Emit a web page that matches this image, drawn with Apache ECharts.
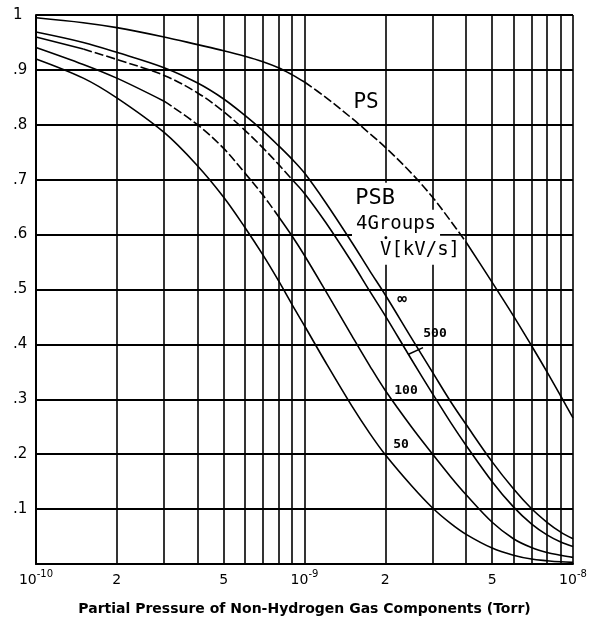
<!DOCTYPE html>
<html><head><meta charset="utf-8">
<script src="https://cdn.jsdelivr.net/npm/echarts@6/dist/echarts.min.js"></script>
<style>html,body{margin:0;padding:0;background:#fff}#c{width:601px;height:621px}</style>
</head><body><div id="c"></div>
<script>
// Pressure samples (Torr)
const pressure = [1e-10,1.5e-10,2e-10,3e-10,4e-10,5e-10,6e-10,7e-10,8e-10,9e-10,
  1e-9,1.2e-9,1.5e-9,1.75e-9,2e-9,2.5e-9,3e-9,3.5e-9,4e-9,5e-9,6e-9,7e-9,8e-9,9e-9,1e-8];
// PS curve
const psValues = [0.995,0.986,0.977,0.960,0.946,0.935,0.925,0.915,0.904,0.891,
  0.878,0.850,0.812,0.784,0.759,0.712,0.668,0.625,0.586,0.513,0.452,0.398,0.350,0.306,0.266];
// PSB 4 groups, V-dot [kV/s]
const psbInf = [0.969,0.950,0.932,0.904,0.876,0.847,0.817,0.789,0.762,0.737,
  0.712,0.658,0.586,0.534,0.490,0.412,0.349,0.296,0.254,0.186,0.137,0.101,0.076,0.058,0.046];
const psb500 = [0.960,0.938,0.919,0.890,0.858,0.824,0.790,0.758,0.728,0.700,
  0.675,0.622,0.550,0.497,0.452,0.373,0.310,0.258,0.216,0.150,0.104,0.073,0.053,0.040,0.032];
const psb100 = [0.941,0.910,0.885,0.843,0.800,0.757,0.712,0.672,0.633,0.597,
  0.562,0.497,0.416,0.361,0.316,0.250,0.200,0.159,0.126,0.076,0.046,0.030,0.021,0.016,0.012];
const psb50 = [0.920,0.885,0.849,0.786,0.725,0.668,0.613,0.563,0.516,0.472,
  0.434,0.367,0.288,0.238,0.199,0.143,0.102,0.074,0.054,0.029,0.016,0.009,0.006,0.004,0.003];
// Grid / tick values
const gridPressures = [];
[-10,-9].forEach(e => { for (let m = 1; m <= 9; m++) gridPressures.push(m * Math.pow(10, e)); });
gridPressures.push(1e-8);
const labelPressures = [1e-10,2e-10,5e-10,1e-9,2e-9,5e-9,1e-8];
const xTitle = 'Partial Pressure of Non-Hydrogen Gas Components (Torr)';

const FONT = 'DejaVu Sans';
const MONO = 'DejaVu Sans Mono';
function part(vals, a, b) {
  const out = [];
  for (let i = a; i <= b; i++) out.push([pressure[i], vals[i]]);
  return out;
}
function curve(data, dashed) {
  return { type: 'line', data: data, smooth: 0.35, symbol: 'none', silent: true, z: 3,
    lineStyle: { color: '#000', width: 1.6, type: dashed ? [9, 3] : 'solid' } };
}
const annotations = [
  { text: 'PS', coord: [1.695e-9, 0.841], size: 21, bg: false },
  { text: 'PSB', coord: [1.831e-9, 0.6655], size: 22, bg: true, pad: [5, 4] },
  { text: '4Groups', coord: [2.192e-9, 0.619], size: 19, bg: true, pad: [5, 4] },
  { text: 'V[kV/s]', coord: [2.693e-9, 0.5714], size: 19, bg: true, pad: [5, 4] },
  { text: '\u2022', coord: [2.012e-9, 0.5913], size: 8, bg: false, bold: true },
  { text: '\u221E', coord: [2.308e-9, 0.481], size: 16, bg: false, bold: true },
  { text: '500', coord: [3.062e-9, 0.4195], size: 13, bg: false, bold: true },
  { text: '100', coord: [2.388e-9, 0.3165], size: 13, bg: false, bold: true },
  { text: '50', coord: [2.288e-9, 0.217], size: 13, bg: false, bold: true }
];

const series = [
  curve(part(psValues, 0, 10), false),
  curve(part(psValues, 10, 18), true),
  curve(part(psValues, 18, 24), false),
  curve(part(psbInf, 0, 24), false),
  curve(part(psb500, 0, 1), false),
  curve(part(psb500, 1, 9), true),
  curve(part(psb500, 9, 24), false),
  curve(part(psb100, 0, 3), false),
  curve(part(psb100, 3, 8), true),
  curve(part(psb100, 8, 24), false),
  curve(part(psb50, 0, 24), false),
  {
    type: 'line', data: [], silent: true, symbol: 'none', z: 1,
    markPoint: {
      symbol: 'rect', symbolSize: 0, silent: true, z: 1,
      data: annotations.map(a => ({
        coord: a.coord, value: a.text,
        label: { show: true, position: 'inside', formatter: a.text, color: '#000',
          fontFamily: MONO, fontSize: a.size, fontWeight: a.bold ? 'bold' : 'normal',
          backgroundColor: a.bg ? '#fff' : 'transparent', padding: a.bg ? a.pad : 0 }
      }))
    },
    markLine: {
      symbol: 'none', silent: true, label: { show: false }, z: 1,
      lineStyle: { color: '#000', width: 1.4, type: 'solid' },
      data: [[{ coord: [2.763e-9, 0.394] }, { coord: [2.430e-9, 0.3816] }]]
    }
  }
];

const chart = echarts.init(document.getElementById('c'), null, { renderer: 'canvas' });
chart.setOption({
  backgroundColor: '#fff',
  animation: false,
  grid: { left: 36, right: 28, top: 15, bottom: 53, containLabel: false },
  xAxis: {
    type: 'log', logBase: 10, min: 1e-10, max: 1e-8, z: 0,
    axisLine: { show: true, lineStyle: { color: '#000', width: 2 } },
    axisTick: { show: false, customValues: gridPressures },
    splitLine: { show: true, lineStyle: { color: '#000', width: 1.6 } },
    minorTick: { show: false }, minorSplitLine: { show: false },
    axisLabel: {
      customValues: labelPressures, margin: 5, color: '#000',
      formatter: function (v) {
        const e = Math.floor(Math.log10(v) + 1e-6);
        const m = Math.round(v / Math.pow(10, e));
        return m === 1 ? '{b|10}{s|' + e + '}' : '{b|' + m + '}';
      },
      rich: {
        b: { fontFamily: FONT, fontSize: 14, lineHeight: 22, color: '#000' },
        s: { fontFamily: FONT, fontSize: 10, lineHeight: 10, verticalAlign: 'top', color: '#000' }
      }
    },
    name: xTitle, nameLocation: 'middle', nameGap: 38,
    nameTextStyle: { fontFamily: FONT, fontSize: 14, fontWeight: 'bold', color: '#000' }
  },
  yAxis: {
    type: 'value', min: 0, max: 1, interval: 0.1, z: 0,
    axisLine: { show: true, lineStyle: { color: '#000', width: 2 } },
    axisTick: { show: false },
    splitLine: { show: true, lineStyle: { color: '#000', width: 2 } },
    axisLabel: {
      align: 'left', margin: 23, color: '#000', fontFamily: FONT, fontSize: 15,
      formatter: function (v) {
        if (v < 1e-6) return '';
        if (Math.abs(v - 1) < 1e-6) return '1';
        return '.' + Math.round(v * 10);
      }
    }
  },
  series: series
});
</script>
</body></html>
